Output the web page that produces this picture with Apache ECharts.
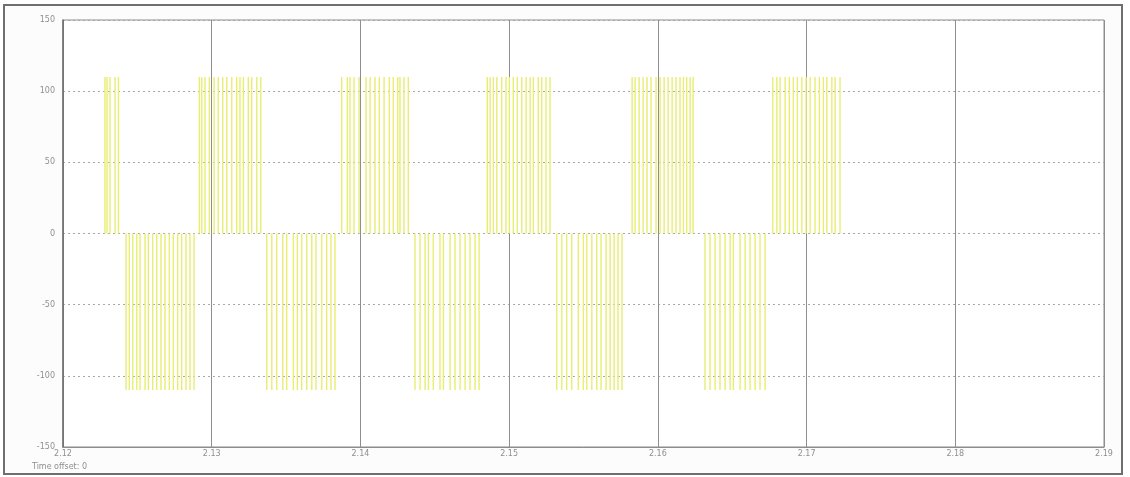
<!DOCTYPE html>
<html>
<head>
<meta charset="utf-8">
<title>Scope</title>
<script src="https://cdn.jsdelivr.net/npm/echarts@6/dist/echarts.min.js"></script>
<style>
  html, body { margin: 0; padding: 0; background: #ffffff; }
  #chart { width: 1130px; height: 477px; }
</style>
</head>
<body>
<div id="chart"></div>
<script>
// Switching instants (s) of the PWM output, grouped by half-cycle.
const posPulseTimes = [
  // partial first group
  2.12282, 2.12296, 2.12316, 2.12350, 2.12373,
  2.12917, 2.12933, 2.12955, 2.12984, 2.13016, 2.13044, 2.13074, 2.13101,
  2.13135, 2.13168, 2.13190, 2.13213, 2.13246, 2.13269, 2.13303, 2.13330,
  2.13874, 2.13912, 2.13930, 2.13957, 2.13991, 2.14038, 2.14065, 2.14098,
  2.14127, 2.14159, 2.14194, 2.14221, 2.14251, 2.14266, 2.14293, 2.14322,
  2.14853, 2.14872, 2.14894, 2.14917, 2.14950, 2.14979, 2.15001, 2.15028,
  2.15055, 2.15085, 2.15114, 2.15141, 2.15163, 2.15196, 2.15219, 2.15248, 2.15275,
  2.15827, 2.15847, 2.15874, 2.15901, 2.15927, 2.15954, 2.15988, 2.16015,
  2.16042, 2.16069, 2.16096, 2.16122, 2.16149, 2.16172, 2.16194, 2.16217, 2.16237,
  2.16773, 2.16800, 2.16822, 2.16856, 2.16884, 2.16911, 2.16938, 2.16968,
  2.16997, 2.17024, 2.17057, 2.17086, 2.17113, 2.17136, 2.17170, 2.17192, 2.17225
];
const negPulseTimes = [
  2.12424, 2.12446, 2.12469, 2.12496, 2.12518, 2.12552, 2.12574, 2.12603, 2.12630,
  2.12659, 2.12686, 2.12715, 2.12742, 2.12771, 2.12798, 2.12827, 2.12854, 2.12881,
  2.13370, 2.13404, 2.13437, 2.13478, 2.13504, 2.13549, 2.13576, 2.13605,
  2.13639, 2.13673, 2.13701, 2.13740, 2.13773, 2.13802, 2.13829,
  2.14367, 2.14401, 2.14435, 2.14457, 2.14490, 2.14535, 2.14558, 2.14603,
  2.14636, 2.14670, 2.14704, 2.14737, 2.14771, 2.14798,
  2.15320, 2.15354, 2.15387, 2.15421, 2.15465, 2.15499, 2.15522, 2.15556,
  2.15589, 2.15618, 2.15652, 2.15679, 2.15706, 2.15732, 2.15759,
  2.16317, 2.16351, 2.16385, 2.16418, 2.16452, 2.16486, 2.16508, 2.16553,
  2.16587, 2.16620, 2.16654, 2.16687, 2.16721
];
const pulseHigh = 110;
const pulseLow = -110;

const xTicks = [2.12, 2.13, 2.14, 2.15, 2.16, 2.17, 2.18, 2.19];
const yTicks = [-150, -100, -50, 0, 50, 100, 150];
const footerText = 'Time offset: 0';

const traceColor = '#e9ed72';
const labelColor = '#8f8f8f';

const pulseData = posPulseTimes.map(t => [t, pulseHigh])
  .concat(negPulseTimes.map(t => [t, pulseLow]));

const chart = echarts.init(document.getElementById('chart'), null, { renderer: 'canvas' });

chart.setOption({
  animation: false,
  backgroundColor: '#ffffff',
  graphic: [
    {
      type: 'rect',
      z: -10,
      silent: true,
      shape: { x: 4, y: 5, width: 1118, height: 469 },
      style: { fill: '#fcfcfc', stroke: '#6f6f6f', lineWidth: 2 }
    },
    {
      type: 'text',
      left: 32,
      top: 463,
      silent: true,
      style: { text: footerText, fill: labelColor, font: '8px "DejaVu Sans"' }
    }
  ],
  grid: {
    left: 63, top: 20, right: 26, bottom: 30,
    show: true,
    backgroundColor: '#ffffff',
    borderColor: '#8c8c8c',
    borderWidth: 1
  },
  xAxis: {
    type: 'value',
    min: xTicks[0],
    max: xTicks[xTicks.length - 1],
    interval: 0.01,
    axisLine: { show: true, onZero: false, lineStyle: { color: '#8c8c8c', width: 1 } },
    axisTick: { show: false },
    axisLabel: {
      margin: 3,
      color: labelColor,
      fontSize: 8,
      fontFamily: 'DejaVu Sans',
      formatter: v => v.toFixed(2)
    },
    splitLine: { show: true, lineStyle: { color: '#8e8e8e', width: 1, type: 'solid' } }
  },
  yAxis: {
    type: 'value',
    min: yTicks[0],
    max: yTicks[yTicks.length - 1],
    interval: 50,
    axisLine: { show: true, onZero: false, lineStyle: { color: '#6e6e6e', width: 1.5 } },
    axisTick: { show: false },
    axisLabel: {
      margin: 8,
      color: labelColor,
      fontSize: 8,
      fontFamily: 'DejaVu Sans'
    },
    splitLine: { show: true, lineStyle: { color: '#a8a8a8', width: 1, type: [2, 3] } }
  },
  series: [
    {
      type: 'custom',
      clip: true,
      encode: { x: 0, y: 1 },
      data: pulseData,
      renderItem: function (params, api) {
        const t = api.value(0);
        const v = api.value(1);
        const base = api.coord([t, 0]);
        const tip = api.coord([t, v]);
        return {
          type: 'line',
          shape: { x1: base[0], y1: base[1], x2: tip[0], y2: tip[1] },
          style: { stroke: traceColor, lineWidth: 1.4 }
        };
      }
    }
  ]
});
</script>
</body>
</html>
